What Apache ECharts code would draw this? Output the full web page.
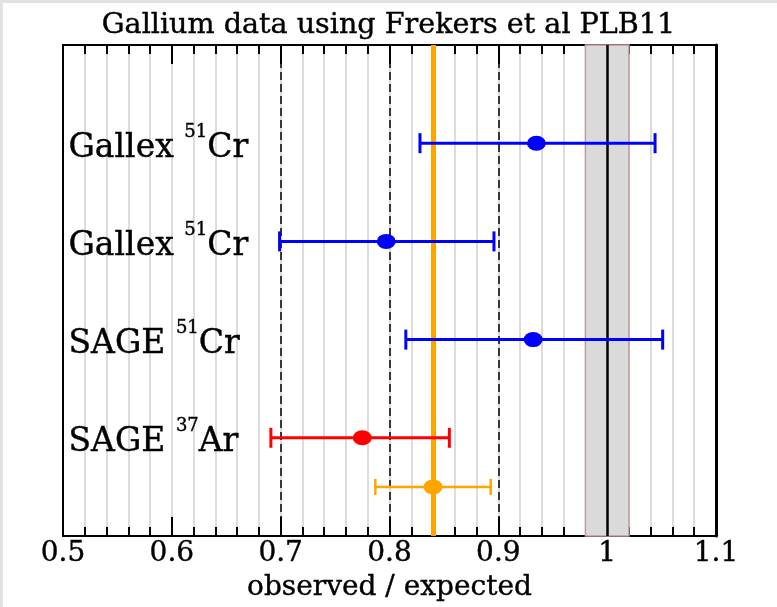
<!DOCTYPE html>
<html><head><meta charset="utf-8">
<script src="https://cdn.jsdelivr.net/npm/echarts@6/dist/echarts.min.js"></script>
<style>html,body{margin:0;padding:0;background:#fff}#c{width:777px;height:607px}</style>
</head><body><div id="c"></div>
<script>
// ---- data ----
var expNames = ['Gallex', 'Gallex', 'SAGE', 'SAGE'];
var isoMass = ['51', '51', '51', '37'];
var isoElem = ['Cr', 'Cr', 'Cr', 'Ar'];
var rowPos = [4, 3, 2, 1];
var centers = [0.935, 0.797, 0.932, 0.775];
var lows = [0.828, 0.699, 0.815, 0.691];
var highs = [1.044, 0.896, 1.051, 0.855];
var colors = ['#0000ff', '#0000ff', '#0000ff', '#ff0000'];
var combinedRow = 0.5, combinedCenter = 0.840, combinedLow = 0.787, combinedHigh = 0.893;
var dashedRefs = [0.7, 0.8, 0.9];
var expectedValue = 1.0, expectedBand = [0.98, 1.02];
var xTicks = [0.5, 0.6, 0.7, 0.8, 0.9, 1.0, 1.1];

var serif = '"DejaVu Serif","Liberation Serif",serif';

var errData = [];
for (var i = 0; i < centers.length; i++) errData.push({value: [lows[i], highs[i], rowPos[i]], color: colors[i], w: 3, cap: 10});
errData.push({value: [combinedLow, combinedHigh, combinedRow], color: '#ffa500', w: 2.5, cap: 8});

var dotData = [];
for (var i = 0; i < centers.length; i++) dotData.push({value: [centers[i], rowPos[i]], itemStyle: {color: colors[i], opacity: 1}});
dotData.push({value: [combinedCenter, combinedRow], itemStyle: {color: '#ffa500', opacity: 1}});

var labelData = [];
for (var i = 0; i < expNames.length; i++) labelData.push({value: [xTicks[0], rowPos[i]], name: '{n|' + expNames[i] + ' }{s|' + isoMass[i] + '}{n|' + isoElem[i] + '}'});

var chart = echarts.init(document.getElementById('c'));
var axisCommon = {
  type: 'value', min: xTicks[0], max: xTicks[xTicks.length - 1], interval: 0.1,
  axisLine: {show: true, onZero: false, lineStyle: {color: '#000', width: 2}},
  axisTick: {show: true, inside: true, length: 19, lineStyle: {color: '#000', width: 2}},
  minorTick: {show: true, splitNumber: 5, length: 9, lineStyle: {color: '#000', width: 2}}
};
var textDark = {textBorderColor: '#000', textBorderWidth: 0.4, opacity: 1};
chart.setOption({
  backgroundColor: '#fff',
  animation: false,
  graphic: [
    {type: 'rect', left: 0, top: 0, shape: {width: 777, height: 3}, style: {fill: '#e2e2e2'}, silent: true},
    {type: 'rect', left: 0, top: 0, shape: {width: 3, height: 607}, style: {fill: '#e2e2e2'}, silent: true}
  ],
  title: {text: 'Gallium data using Frekers et al PLB11', left: 'center', top: 6,
    textStyle: Object.assign({fontFamily: serif, fontSize: 28.6, fontWeight: 'normal', color: '#000'}, textDark)},
  grid: {left: 63, right: 61, top: 45, bottom: 71, containLabel: false, outerBoundsMode: 'none'},
  xAxis: [
    Object.assign({}, axisCommon, {
      position: 'bottom',
      name: 'observed / expected', nameLocation: 'middle', nameGap: 38,
      nameTextStyle: Object.assign({fontFamily: serif, fontSize: 28, color: '#000'}, textDark),
      axisLabel: Object.assign({fontFamily: serif, fontSize: 28, color: '#000', margin: 4}, textDark),
      splitLine: {show: true, lineStyle: {color: '#dcdcdc', width: 2}},
      minorSplitLine: {show: true, lineStyle: {color: '#dcdcdc', width: 2}}
    }),
    Object.assign({}, axisCommon, {
      position: 'top', axisLabel: {show: false}, splitLine: {show: false}
    })
  ],
  yAxis: [
    {type: 'value', min: 0, max: 5, position: 'left', axisLine: {show: true, onZero: false, lineStyle: {color: '#000', width: 2}},
     axisTick: {show: false}, axisLabel: {show: false}, splitLine: {show: false}},
    {type: 'value', min: 0, max: 5, position: 'right', axisLine: {show: true, onZero: false, lineStyle: {color: '#000', width: 3}},
     axisTick: {show: false}, axisLabel: {show: false}, splitLine: {show: false}}
  ],
  series: [
    {
      type: 'scatter', data: [], z: 1, silent: true,
      markArea: {silent: true, itemStyle: {color: '#dadada', borderColor: '#c49a9a', borderWidth: 1.5, opacity: 1},
        data: [[{xAxis: expectedBand[0]}, {xAxis: expectedBand[1]}]]}
    },
    {
      type: 'scatter', data: [], z: 2, silent: true,
      markLine: {silent: true, symbol: 'none', label: {show: false},
        data: dashedRefs.map(function (v) { return {xAxis: v, lineStyle: {color: '#000', type: [8, 4], width: 1.5, opacity: 1}}; })
          .concat([{xAxis: expectedValue, lineStyle: {color: '#000', type: 'solid', width: 2.5, opacity: 1}},
                   {xAxis: combinedCenter, lineStyle: {color: '#ffa500', type: 'solid', width: 5, opacity: 1}}])}
    },
    {
      type: 'custom', z: 5, silent: true,
      data: errData,
      renderItem: function (params, api) {
        var d = errData[params.dataIndex];
        var a = api.coord([api.value(0), api.value(2)]);
        var b = api.coord([api.value(1), api.value(2)]);
        var st = {stroke: d.color, lineWidth: d.w};
        return {type: 'group', children: [
          {type: 'line', shape: {x1: a[0], y1: a[1], x2: b[0], y2: b[1]}, style: st},
          {type: 'line', shape: {x1: a[0], y1: a[1] - d.cap, x2: a[0], y2: a[1] + d.cap}, style: st},
          {type: 'line', shape: {x1: b[0], y1: b[1] - d.cap, x2: b[0], y2: b[1] + d.cap}, style: st}
        ]};
      }
    },
    {
      type: 'scatter', z: 6, symbol: 'circle', symbolSize: [19, 15], data: dotData, silent: true
    },
    {
      type: 'scatter', z: 7, symbolSize: 1, data: labelData, silent: true,
      itemStyle: {opacity: 0},
      label: {show: true, position: 'right', distance: 5, offset: [0, 5], color: '#000', opacity: 1,
        formatter: function (p) { return p.name; },
        rich: {
          n: Object.assign({fontFamily: serif, fontSize: 33, color: '#000', lineHeight: 50, verticalAlign: 'middle'}, textDark),
          s: Object.assign({fontFamily: serif, fontSize: 18, color: '#000', lineHeight: 20, verticalAlign: 'top'}, textDark)
        }}
    }
  ]
});
</script></body></html>
